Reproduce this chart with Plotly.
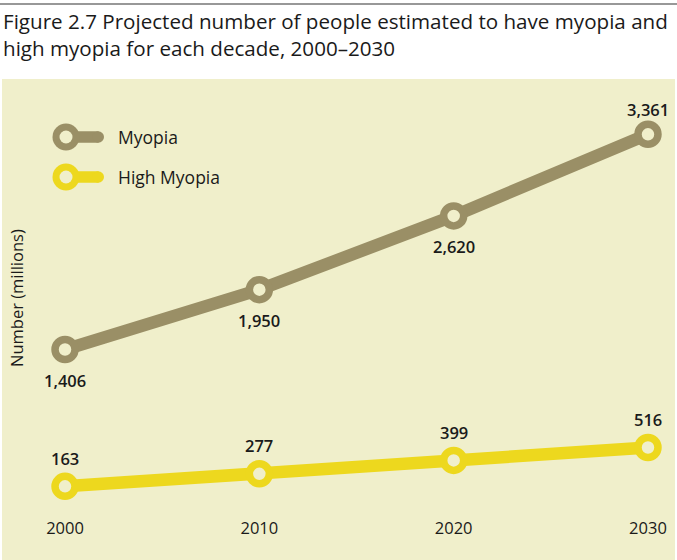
import plotly.graph_objects as go

years = [2000, 2010, 2020, 2030]
year_labels = ["2000", "2010", "2020", "2030"]
myopia = [1406, 1950, 2620, 3361]
high_myopia = [163, 277, 399, 516]
series_names = ["Myopia", "High Myopia"]

PANEL = "#F0EFCB"
KHAKI = "#9A8F66"
YELLOW = "#EDD81E"
TXT = "#1a1a1a"
FONT = "Open Sans"

W, H = 677, 560
ML, MR, MT, MB = 2, 2, 79, 0
PW, PH = W - ML - MR, H - MT - MB


def px(x):
    return (x - ML) / PW


def py(y):
    return (H - MB - y) / PH


fig = go.Figure()

for vals, col, name in [(myopia, KHAKI, series_names[0]), (high_myopia, YELLOW, series_names[1])]:
    fig.add_trace(go.Scatter(
        x=years, y=vals, mode="lines+markers", name=name,
        line=dict(color=col, width=12.5),
        marker=dict(size=20, color=PANEL, line=dict(color=col, width=7.5)),
        showlegend=False, hoverinfo="x+y",
    ))

# value labels
for i, (x, v) in enumerate(zip(years, myopia)):
    fig.add_annotation(x=x, y=v, text=f"{v:,}", showarrow=False,
                       yshift=(25 if i == 3 else -31),
                       font=dict(family=FONT, size=16.5, color=TXT, weight=600))
for x, v in zip(years, high_myopia):
    fig.add_annotation(x=x, y=v, text=f"{v:,}", showarrow=False, yshift=28,
                       font=dict(family=FONT, size=16.5, color=TXT, weight=600))

# year labels (x axis)
fig.add_trace(go.Scatter(
    x=years, y=[-233] * len(years), mode="text", text=year_labels,
    textfont=dict(family=FONT, size=16.5, color=TXT), showlegend=False, hoverinfo="skip",
))

# custom legend
for name, col, cy in [(series_names[0], KHAKI, 137), (series_names[1], YELLOW, 177)]:
    fig.add_shape(type="line", xref="paper", yref="paper",
                  x0=px(66), x1=px(98.5), y0=py(cy), y1=py(cy),
                  line=dict(color=col, width=11.5))
    fig.add_shape(type="circle", xref="paper", yref="paper",
                  x0=px(92.5), x1=px(104), y0=py(cy + 5.75), y1=py(cy - 5.75),
                  fillcolor=col, line=dict(width=0))
    fig.add_shape(type="circle", xref="paper", yref="paper",
                  x0=px(52.5), x1=px(79.5), y0=py(cy + 13.5), y1=py(cy - 13.5),
                  fillcolor=col, line=dict(width=0))
    fig.add_shape(type="circle", xref="paper", yref="paper",
                  x0=px(59.5), x1=px(72.5), y0=py(cy + 6.5), y1=py(cy - 6.5),
                  fillcolor=PANEL, line=dict(width=0))
    fig.add_annotation(xref="paper", yref="paper", x=px(116), y=py(cy), text=name,
                       showarrow=False, xanchor="left", yanchor="middle",
                       font=dict(family=FONT, size=17.5, color=TXT))

# y axis title
fig.add_annotation(xref="paper", yref="paper", x=px(16), y=py(298), text="Number (millions)",
                   textangle=-90, showarrow=False, xanchor="center", yanchor="middle",
                   font=dict(family=FONT, size=16.5, color=TXT))

# title
fig.add_annotation(xref="paper", yref="paper", x=px(1), y=py(21),
                   text="Figure 2.7 Projected number of people estimated to have myopia and",
                   showarrow=False, xanchor="left", yanchor="middle",
                   font=dict(family=FONT, size=20.6, color=TXT))
fig.add_annotation(xref="paper", yref="paper", x=px(1), y=py(48),
                   text="high myopia for each decade, 2000\u20132030",
                   showarrow=False, xanchor="left", yanchor="middle",
                   font=dict(family=FONT, size=20.6, color=TXT))
# top rule
fig.add_shape(type="line", xref="paper", yref="paper", x0=px(0), x1=px(677),
              y0=py(4), y1=py(4), line=dict(color="#333333", width=1.2))

fig.update_layout(
    width=W, height=H,
    margin=dict(l=ML, r=MR, t=MT, b=MB),
    paper_bgcolor="white", plot_bgcolor=PANEL,
    xaxis=dict(range=[1996.757, 2031.39], visible=False, fixedrange=True),
    yaxis=dict(range=[-506, 3863.6], visible=False, fixedrange=True),
    showlegend=False,
)

fig.write_html("out.html", config={"displayModeBar": False},
               post_script="document.body.style.margin='0px';document.body.style.overflow='hidden';")
